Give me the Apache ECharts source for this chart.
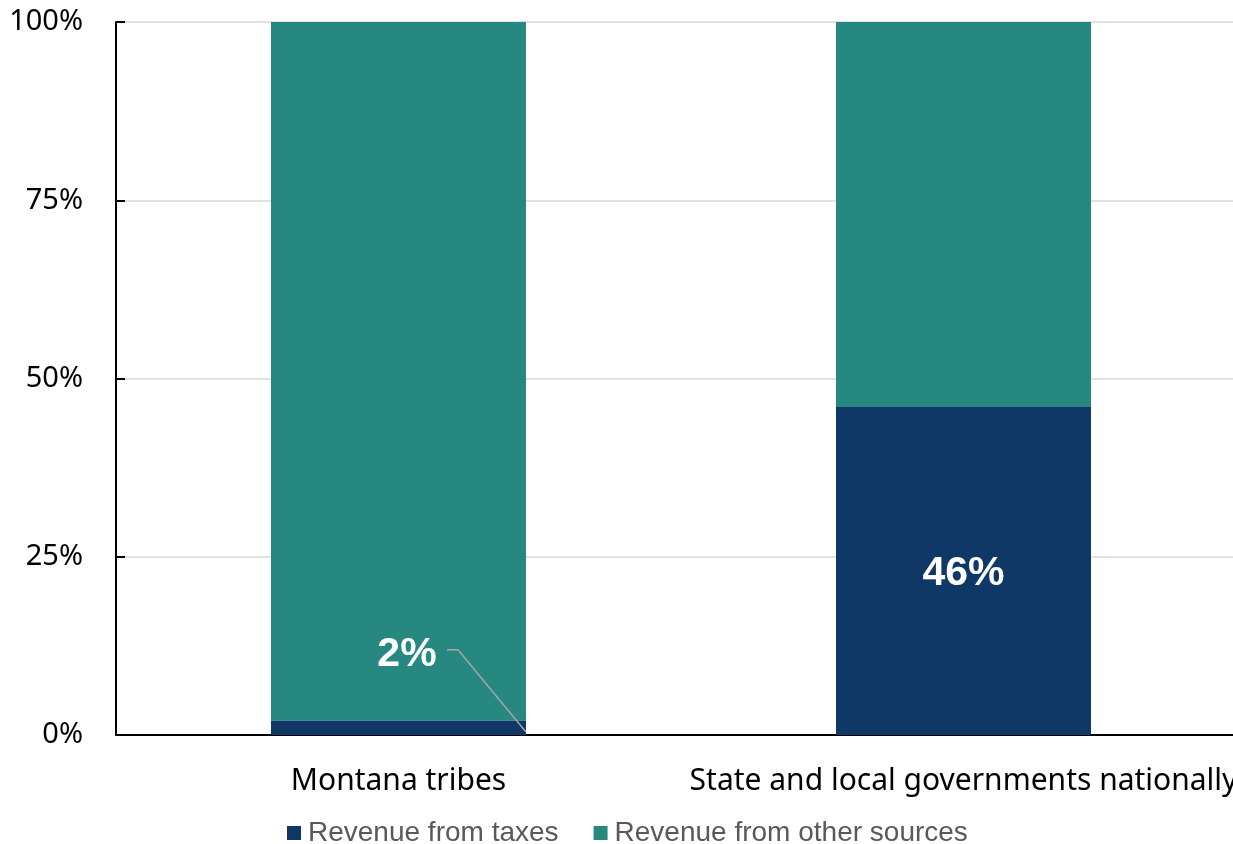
<!DOCTYPE html>
<html><head><meta charset="utf-8">
<script src="https://cdn.jsdelivr.net/npm/echarts@6/dist/echarts.min.js"></script>
<style>html,body{margin:0;padding:0;background:#fff;overflow:hidden}#c{width:1250px;height:844px}</style>
</head><body><div id="c"></div>
<script>
const categories = ['Montana tribes', 'State and local governments nationally'];
const taxes = [2, 46];
const otherSources = [98, 54];
const yTicks = [0, 25, 50, 75, 100];

const BAR_W = 255;
const chart = echarts.init(document.getElementById('c'));
const option = {
  animation: false,
  grid: { left: 116, top: 22, right: 4, bottom: 109, containLabel: false },
  legend: {
    top: 814, left: 282,
    itemWidth: 14, itemHeight: 14, itemGap: 35,
    icon: 'rect',
    textStyle: { fontFamily: 'Liberation Sans', fontSize: 28, color: '#595959', padding: [0, 0, 0, 2] },
    data: ['Revenue from taxes', 'Revenue from other sources']
  },
  xAxis: {
    type: 'category', data: categories,
    axisLine: { lineStyle: { color: '#000', width: 2 } },
    axisTick: { show: false },
    axisLabel: { interval: 0, hideOverlap: false, fontFamily: 'Noto Sans', fontSize: 30, color: '#000', margin: 31 }
  },
  yAxis: {
    type: 'value', min: 0, max: 100, interval: 25,
    axisLine: { show: true, lineStyle: { color: '#000', width: 2 } },
    axisTick: { show: true, inside: true, length: 9, lineStyle: { color: '#000', width: 2 } },
    splitLine: { lineStyle: { color: '#d9d9d9', width: 1.5 } },
    axisLabel: { fontFamily: 'Noto Sans', fontSize: 29, color: '#000', margin: 33,
      formatter: v => yTicks.includes(v) ? v + '%' : '' }
  },
  series: [
    {
      name: 'Revenue from taxes', type: 'bar', stack: 's', barWidth: BAR_W,
      itemStyle: { color: '#0f3867' },
      data: taxes.map((v, i) => i === 0 ? {
        value: v,
        label: { show: true, position: [136, -69], align: 'center', verticalAlign: 'middle' }
      } : v),
      label: { show: true, position: 'inside', offset: [0, 3], formatter: '{c}%', color: '#fff',
        fontFamily: 'Liberation Sans', fontWeight: 'bold', fontSize: 41 },
      z: 3
    },
    {
      name: 'Revenue from other sources', type: 'bar', stack: 's', barWidth: BAR_W,
      itemStyle: { color: '#268880' },
      data: otherSources
    },
    {
      name: 'leader', type: 'custom', silent: true, z: 10,
      data: [[0, taxes[0]]],
      renderItem: function (params, api) {
        const base = api.coord([api.value(0), 0]);
        const top = api.coord([api.value(0), api.value(1)]);
        const half = BAR_W / 2;
        return {
          type: 'polyline',
          shape: { points: [
            [top[0] + 48.5, top[1] - 71],
            [top[0] + 59.5, top[1] - 71],
            [base[0] + half, base[1] - 3]
          ] },
          style: { stroke: '#a6a6a6', lineWidth: 1.5, fill: null }
        };
      }
    }
  ]
};
chart.setOption(option);
</script></body></html>
